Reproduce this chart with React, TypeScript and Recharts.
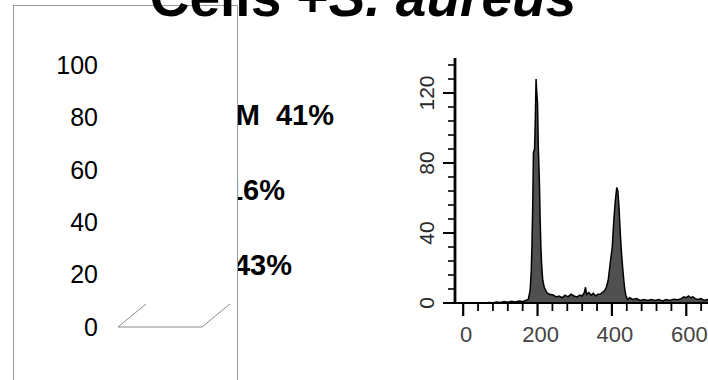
import React from "react";
import { LineChart, Line, AreaChart, Area, XAxis, YAxis } from "recharts";

const FONT = "'Liberation Sans', Arial, sans-serif";

const titleMain = "Cells +";
const titleItalic = "S. aureus";

const phaseNames = ["G2/M", "S", "G1"];
const phasePercents = [41, 16, 43];

const leftTicks = [0, 20, 40, 60, 80, 100];
// empty 3D floor outline of the left column panel (depth offset in axis units)
const floorX = [1, 0, 3, 4];
const floorY = [8.8, 0, 0, 8.8];

const channels = [
  0, 20, 40, 60, 70, 80, 90, 100, 110, 120, 130, 140, 150, 160, 168, 175, 180, 183, 185, 187,
  189, 192, 194, 196, 198, 200, 202, 205, 207, 209, 211, 214, 218, 225, 232, 242, 250, 258, 266, 274,
  282, 290, 298, 306, 314, 320, 326, 329, 332, 338, 344, 350, 356, 362, 368, 374, 380, 385, 390, 395,
  401, 405, 409, 413, 416, 419, 423, 426, 429, 432, 435, 438, 442, 448, 456, 466, 476, 486, 496, 506,
  516, 526, 536, 546, 556, 566, 576, 586, 594, 600, 606, 612, 618, 624, 632, 640, 648, 656, 664, 672,
  680, 690, 700,
];
const counts = [
  0, 0, 0, 0, 0.3, 0.2, 0.6, 0.3, 0.8, 0.4, 1, 0.6, 1.2, 0.8, 1.5, 2, 7, 18, 33, 55,
  86, 88, 105, 128, 120, 114, 90, 69, 48, 32, 22, 13, 9, 6, 5, 4.6, 3.5, 4, 3, 4.5,
  3.5, 5, 4, 3.5, 4.5, 4, 6, 9, 5, 6, 4.5, 5.5, 4, 5, 5, 6, 7, 9, 13, 22,
  32, 47, 58, 66, 64, 55, 38, 28, 20, 13, 7, 4, 2, 3, 2, 2.5, 1.5, 2, 1.5, 2,
  1.5, 2, 1.2, 2, 1.5, 2.2, 1.8, 2.5, 3.5, 3, 4, 3, 3.5, 2.5, 2, 2.5, 1.5, 2, 1.5, 2,
  1.5, 2, 1.5,
];

const histYTicks = [0, 8, 16, 24, 32, 40, 48, 56, 64, 72, 80, 88, 96, 104, 112, 120, 128, 136];
const histYLabels = [0, 40, 80, 120];
const histXTicks = [
  0, 40, 80, 120, 160, 200, 240, 280, 320, 360, 400, 440, 480, 520, 560, 600, 640, 680, 720, 760,
  800, 840, 880, 920, 960, 1000,
];
const histXLabels = [0, 200, 400, 600, 800, 1000];

const histData = channels.map((c, i) => ({ ch: c, n: counts[i] }));
const floorData = floorX.map((x, i) => ({ x, y: floorY[i] }));

const HistYTick = (props: any) => {
  const { x, y, payload } = props;
  const v = payload.value;
  const major = histYLabels.includes(v);
  return (
    <g>
      <line x1={x - (major ? 12 : 7)} x2={x} y1={y} y2={y} stroke="#000" strokeWidth={major ? 2 : 1.6} />
      {major && (
        <text
          x={x - 29}
          y={y}
          transform={`rotate(-90 ${x - 29} ${y})`}
          textAnchor="middle"
          dominantBaseline="central"
          fontSize={21}
          fill="#2a2a2a"
          fontFamily={FONT}
        >
          {v}
        </text>
      )}
    </g>
  );
};

const HistXTick = (props: any) => {
  const { x, y, payload } = props;
  const v = payload.value;
  const major = histXLabels.includes(v);
  return (
    <g>
      <line x1={x} x2={x} y1={y} y2={y + (major ? 13 : 8)} stroke="#000" strokeWidth={major ? 2.2 : 1.8} />
      {major && (
        <text x={x + 3} y={y + 39} textAnchor="middle" fontSize={22} fill="#444" fontFamily={FONT}>
          {v}
        </text>
      )}
    </g>
  );
};

export default function App() {
  return (
    <div
      style={{
        position: "absolute",
        left: 0,
        top: 0,
        width: 708,
        height: 380,
        overflow: "hidden",
        background: "#fff",
        fontFamily: FONT,
      }}
    >
      {/* phase percentage labels (partly hidden behind the left panel) */}
      <svg width={708} height={380} style={{ position: "absolute", left: 0, top: 0 }}>
        {phaseNames.map((name, i) => (
          <text
            key={name}
            x={[334, 285, 292][i]}
            y={[125, 200, 275][i]}
            textAnchor="end"
            fontSize={29}
            fontWeight="bold"
            fill="#000"
            fontFamily={FONT}
            style={{ whiteSpace: "pre" }}
          >
            {`${name}${i === 0 ? "\u00a0 " : " "}${phasePercents[i]}%`}
          </text>
        ))}
      </svg>

      {/* left empty 3D column panel */}
      <div
        style={{
          position: "absolute",
          left: 13,
          top: 5,
          width: 225,
          height: 400,
          boxSizing: "border-box",
          border: "1px solid #9a9a9a",
          background: "#fff",
        }}
      >
        <LineChart width={223} height={374} data={floorData} margin={{ top: 59, right: 7, bottom: 53, left: 0 }}>
          <XAxis type="number" dataKey="x" domain={[0, 4]} hide />
          <YAxis
            type="number"
            domain={[0, 100]}
            ticks={leftTicks}
            interval={0}
            axisLine={false}
            tickLine={false}
            tickSize={0}
            tickMargin={20}
            width={104}
            tick={{ fontSize: 25, fill: "#000", fontFamily: FONT }}
          />
          <Line
            type="linear"
            dataKey="y"
            stroke="#8a8a8a"
            strokeWidth={1}
            dot={false}
            activeDot={false}
            isAnimationActive={false}
          />
        </LineChart>
      </div>

      {/* DNA content histogram */}
      <div style={{ position: "absolute", left: 400, top: 40 }}>
        <AreaChart width={440} height={320} data={histData} margin={{ top: 18, right: 5, bottom: 12, left: 0 }}>
          <XAxis
            type="number"
            dataKey="ch"
            domain={[-22, 1000]}
            ticks={histXTicks}
            interval={0}
            height={45}
            tickSize={0}
            tickMargin={0}
            axisLine={{ stroke: "#000", strokeWidth: 2.2 }}
            tickLine={false}
            tick={<HistXTick />}
          />
          <YAxis
            type="number"
            domain={[0, 140]}
            ticks={histYTicks}
            interval={0}
            width={55}
            tickSize={0}
            tickMargin={0}
            axisLine={{ stroke: "#000", strokeWidth: 2.8 }}
            tickLine={false}
            tick={<HistYTick />}
          />
          <Area
            type="linear"
            dataKey="n"
            stroke="#000"
            strokeWidth={1.5}
            fill="#505050"
            fillOpacity={1}
            baseValue={0}
            dot={false}
            activeDot={false}
            isAnimationActive={false}
          />
        </AreaChart>
      </div>

      {/* title */}
      <svg width={708} height={380} style={{ position: "absolute", left: 0, top: 0, pointerEvents: "none" }}>
        <text x={363} y={16} textAnchor="middle" fontSize={55} fontWeight="bold" fill="#000" fontFamily={FONT}>
          {titleMain}
          <tspan fontStyle="italic">{titleItalic}</tspan>
        </text>
      </svg>
    </div>
  );
}
